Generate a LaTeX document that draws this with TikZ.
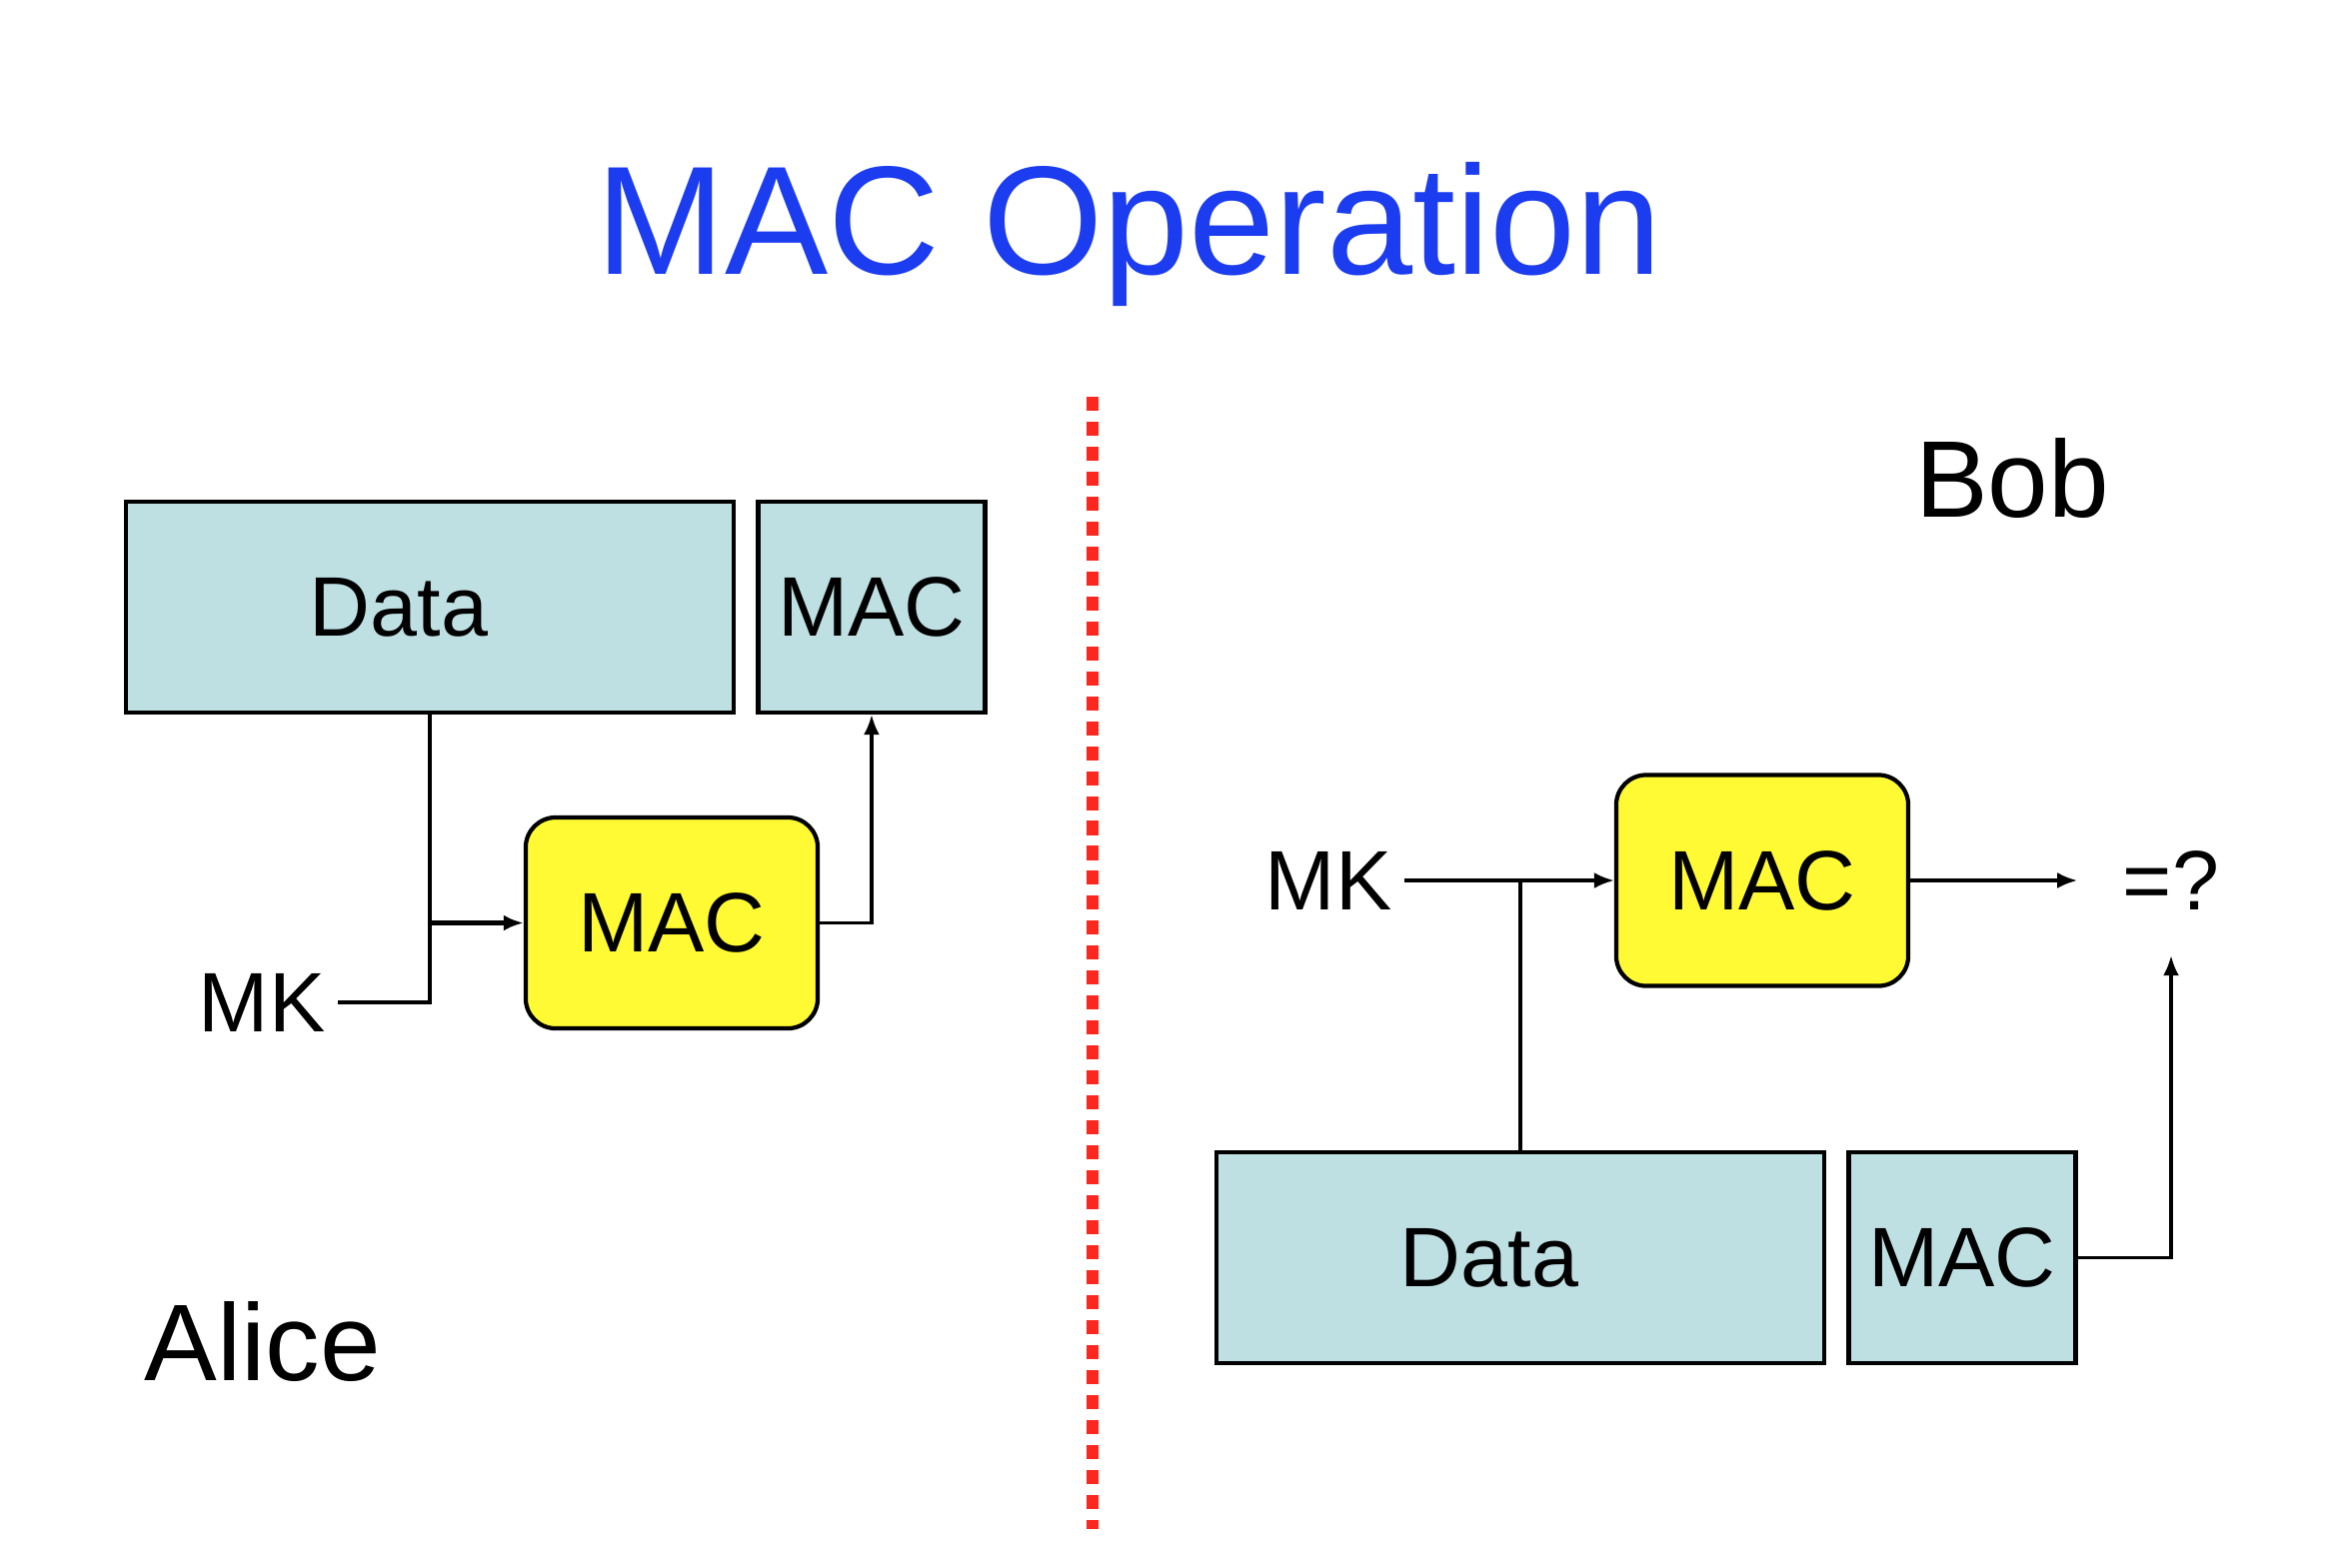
\documentclass[tikz,border=0pt]{standalone}
\usepackage{fontspec}
\setmainfont{Liberation Sans}
\usepackage{tikz}
\usetikzlibrary{positioning,arrows.meta}

\definecolor{boxcyan}{RGB}{190,224,227}
\definecolor{macyellow}{RGB}{255,250,51}
\definecolor{ttlblue}{RGB}{28,60,240}
\definecolor{divred}{RGB}{250,40,30}

\begin{document}
\begin{tikzpicture}[
  x=0.01cm, y=-0.01cm,
  >={Latex[length=2mm,width=1.6mm]},
  blk/.style={draw=black, line width=1.2pt, fill=boxcyan, minimum height=2.11cm,
    inner sep=0pt, font=\fontsize{24}{24}\selectfont},
  fn/.style={draw=black, line width=1.2pt, fill=macyellow, rounded corners=3mm,
    minimum width=2.92cm, minimum height=2.11cm, inner sep=0pt,
    font=\fontsize{24}{24}\selectfont},
  lbl/.style={font=\fontsize{24}{24}\selectfont},
  who/.style={font=\fontsize{31}{31}\selectfont},
  wire/.style={line width=0.9pt}
  ]

  \useasboundingbox (0,0) rectangle (2348,1568);

  \node (ttl) [anchor=base, text=ttlblue, font=\fontsize{44}{44}\selectfont]
    at (1130,274) {MAC Operation};

  % sender side
  \node (dataA) [blk, minimum width=6.08cm] at (430,607.5) {Data\hspace*{0.62cm}};
  \node (tagA) [blk, minimum width=2.27cm, right=0.2cm of dataA] {MAC};
  \node (macA) [fn] at (672,923.5) {MAC};
  \node (mkA) [lbl, anchor=east] at (338,1003) {MK};
  \node (alice) [who] at (263,1343) {Alice};

  \coordinate (jA) at (dataA.south |- macA.west);
  \path [draw,wire] (dataA.south) -- (jA) ;
  \path [draw,line width=1.4pt,->] (jA) -- (macA.west) ;
  \path [draw,wire] (mkA.east) -| (jA) ;
  \path [draw,wire,->] (macA.east) -| (tagA.south) ;

  % divider
  \coordinate (divtop) at (1093,397);
  \coordinate (divbot) at (1093,1530);
  \path [draw=divred, line width=3.6pt, dash pattern=on 4pt off 3.1pt] (divtop) -- (divbot) ;

  % receiver side
  \node (bob) [who] at (2013,479) {Bob};
  \node (macB) [fn] at (1763,881) {MAC};
  \node (dataB) [blk, minimum width=6.08cm] at (1521,1258.5) {Data\hspace*{0.62cm}};
  \node (tagB) [blk, minimum width=2.27cm, right=0.2cm of dataB] {MAC};
  \node (mkB) [lbl, anchor=east] at (1405,881) {MK};
  \node (eq) [lbl, inner sep=0.45cm] at (2172,881) {=?};

  \coordinate (jB) at (dataB.north |- macB.west);
  \path [draw,wire,->] (mkB.east) -- (macB.west) ;
  \path [draw,wire] (dataB.north) -- (jB) ;
  \path [draw,wire,->] (macB.east) -- (eq.west) ;
  \path [draw,wire,->] (tagB.east) -| (eq.south) ;
\end{tikzpicture}
\end{document}
